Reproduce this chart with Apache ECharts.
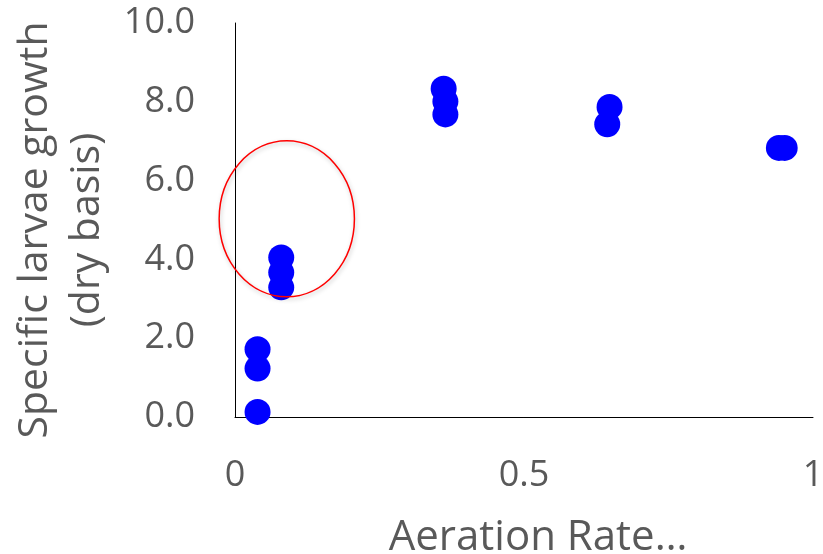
<!DOCTYPE html>
<html>
<head>
<meta charset="utf-8">
<script src="https://cdn.jsdelivr.net/npm/echarts@6/dist/echarts.min.js"></script>
<style>
  html, body { margin: 0; padding: 0; background: #fff; }
  #chart { width: 823px; height: 554px; }
</style>
</head>
<body>
<div id="chart"></div>
<script>
// Aeration rate (x) and specific larvae growth on a dry basis (y)
const aerationRate = [0.039, 0.039, 0.039, 0.080, 0.080, 0.080, 0.361, 0.364, 0.364, 0.648, 0.644, 0.941, 0.951];
const larvaeGrowth = [0.13, 1.23, 1.72, 4.05, 3.67, 3.29, 8.33, 8.01, 7.68, 7.87, 7.43, 6.83, 6.83];

// Highlight ring around the low-aeration group: [centre x, centre y, radius x, radius y]
const highlightRing = [0.0896, 5.03, 0.117, 1.98];

const xTicks = [0, 0.5, 1];
const yTicks = [0, 2, 4, 6, 8, 10];

const FONT = '"Open Sans", "Noto Sans", sans-serif';
const TEXT = '#595959';

const points = aerationRate.map((x, i) => [x, larvaeGrowth[i]]);

const chart = echarts.init(document.getElementById('chart'));
chart.setOption({
  animation: false,
  backgroundColor: '#ffffff',
  grid: {
    left: 235, right: 10, top: 23, bottom: 137,
    containLabel: false,
    outerBoundsMode: 'none'
  },
  xAxis: {
    type: 'value',
    min: xTicks[0],
    max: xTicks[xTicks.length - 1],
    interval: 0.5,
    name: 'Aeration Rate\u2026',
    nameLocation: 'middle',
    nameGap: 100,
    nameTextStyle: { color: TEXT, fontFamily: FONT, fontSize: 42, padding: [0, 0, 0, 28] },
    axisLine: { show: true, lineStyle: { color: '#000', width: 1 } },
    axisTick: { show: false },
    splitLine: { show: false },
    axisLabel: { color: TEXT, fontFamily: FONT, fontSize: 36, margin: 41 }
  },
  yAxis: {
    type: 'value',
    min: yTicks[0],
    max: yTicks[yTicks.length - 1],
    interval: 2,
    name: 'Specific larvae growth\n(dry basis)',
    nameLocation: 'middle',
    nameGap: 118,
    nameTextStyle: {
      color: TEXT, fontFamily: FONT, fontSize: 41, lineHeight: 52,
      padding: [0, 20, 0, 0]
    },
    axisLine: { show: true, onZero: false, lineStyle: { color: '#000', width: 1 } },
    axisTick: { show: false },
    splitLine: { show: false },
    axisLabel: {
      color: TEXT, fontFamily: FONT, fontSize: 36, margin: 40,
      formatter: v => v.toFixed(1)
    }
  },
  series: [
    {
      type: 'scatter',
      data: points,
      symbol: 'circle',
      symbolSize: 26,
      itemStyle: { color: '#0000ff', opacity: 1 },
      z: 2
    },
    {
      type: 'custom',
      data: [highlightRing],
      z: 3,
      silent: true,
      renderItem: (params, api) => {
        const c = api.coord([api.value(0), api.value(1)]);
        const s = api.size([api.value(2), api.value(3)]);
        const cx = c[0], cy = c[1], rx = s[0], ry = s[1];
        const d = `M ${cx - rx} ${cy} A ${rx} ${ry} 0 1 0 ${cx + rx} ${cy} A ${rx} ${ry} 0 1 0 ${cx - rx} ${cy} Z`;
        return {
          type: 'path',
          shape: { pathData: d },
          style: {
            fill: 'none',
            stroke: '#ff0000',
            lineWidth: 1.5,
            shadowColor: 'rgba(0,0,0,0.25)',
            shadowBlur: 4,
            shadowOffsetX: 1,
            shadowOffsetY: 2
          }
        };
      }
    }
  ]
});
</script>
</body>
</html>
